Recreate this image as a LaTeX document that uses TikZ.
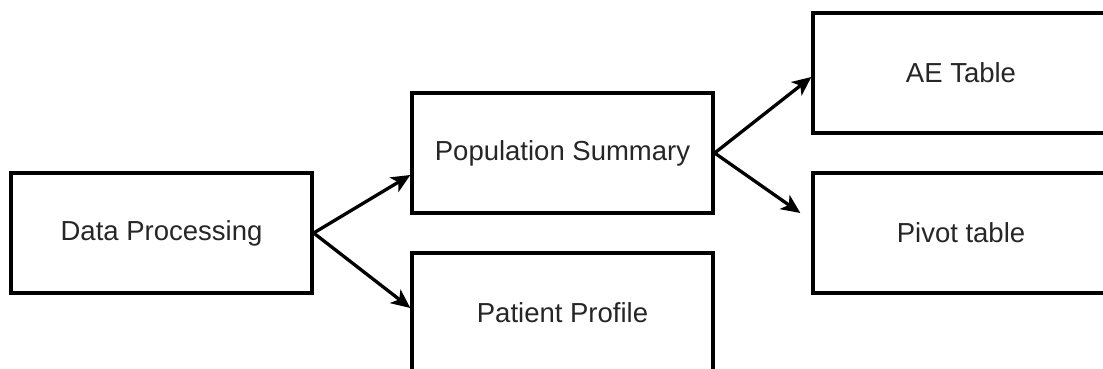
\documentclass[tikz,border=0pt]{standalone}
\usepackage{fontspec}
\setmainfont{Liberation Sans}
\usetikzlibrary{arrows.meta}
\begin{document}
\begin{tikzpicture}[x=1pt,y=1pt,
  box/.style={draw=black, line width=3.3pt, fill=white, minimum width=301pt, minimum height=120pt,
    inner sep=0pt, font=\fontsize{27.5}{33}\selectfont, text=black!85},
  conn/.style={line width=3.3pt, -{Stealth[length=19pt,width=17pt,inset=5pt]}}]
\useasboundingbox (0,0) rectangle (1103,-369);
\clip (0,0) rectangle (1103,-369);
\fill[white] (0,0) rectangle (1103,-369);
\node[box] (dp) at (161.5,-233) {Data Processing};
\node[box] (pop) at (562.5,-153) {Population Summary};
\node[box] (pat) at (562.5,-313) {Patient Profile};
\node[box, minimum width=296pt] (ae) at (961,-73) {AE Table};
\node[box, minimum width=296pt] (piv) at (961,-233) {Pivot table};
\coordinate (pivin) at ([xshift=-11pt,yshift=20pt]piv.west);
\draw[conn] (dp.east) -- ([yshift=-22pt]pop.west);
\draw[conn] (dp.east) -- ([yshift=5pt]pat.west);
\draw[conn] (pop.east) -- ([yshift=-4pt]ae.west);
\draw[conn] (pop.east) -- (pivin);
\end{tikzpicture}
\end{document}
